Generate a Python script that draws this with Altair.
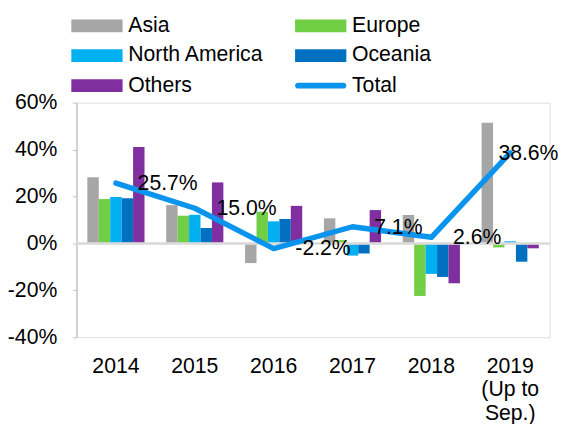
import altair as alt
import pandas as pd

years = ["2014", "2015", "2016", "2017", "2018", "2019|(Up to|Sep.)"]
series = ["Asia", "Europe", "North America", "Oceania", "Others"]
asia = [28.2, 16.3, -8.4, 10.7, 12.1, 51.4]
europe = [18.9, 11.8, 13.5, 1.4, -22.4, -1.7]
north_america = [19.8, 12.2, 9.4, -5.2, -13.0, 0.9]
oceania = [19.2, 6.6, 10.4, -4.3, -14.3, -7.8]
others = [41.1, 26.0, 16.0, 14.2, -17.0, -2.1]
total = [25.7, 15.0, -2.2, 7.1, 2.6, 38.6]
y_ticks = [-40, -20, 0, 20, 40, 60]

# legend order (two columns, filled column by column)
legend_names = ["Asia", "North America", "Others", "Europe", "Oceania", "Total"]
colors = ["#A6A6A6", "#00B0F0", "#7F2FA0", "#70CF45", "#0070C0", "#0A94EE"]
total_color = "#0A94EE"

values_by_series = [asia, europe, north_america, oceania, others]
rows = []
for s, vals in zip(series, values_by_series):
    for y, v in zip(years, vals):
        rows.append({"year": y, "series": s, "value": v})
bars_df = pd.DataFrame(rows)
total_df = pd.DataFrame({"year": years, "total": total})

FONT = "Liberation Sans"
FS = 21.5
RECT = "M-4,-1H4V1H-4Z"
PILL = "M-3.55,-0.45H3.55A0.45,0.45 0 0 1 3.55,0.45H-3.55A0.45,0.45 0 0 1 -3.55,-0.45Z"

x_enc = alt.X(
    "year:N",
    sort=years,
    scale=alt.Scale(paddingInner=0.275, paddingOuter=0.1375),
    axis=alt.Axis(
        title=None, domain=False, ticks=False, labelAngle=0,
        labelExpr="split(datum.label, '|')", labelFontSize=FS,
        labelPadding=19, labelLineHeight=23.5, labelColor="#000000",
        labelFont=FONT,
    ),
)
y_scale = alt.Scale(domain=[-40, 60], nice=False)

bars = alt.Chart(bars_df).mark_bar().encode(
    x=x_enc,
    xOffset=alt.XOffset("series:N", sort=series),
    y=alt.Y(
        "value:Q",
        scale=y_scale,
        axis=alt.Axis(
            title=None, values=y_ticks, labelExpr="datum.value + '%'",
            grid=False, domainColor="#BFBFBF", tickColor="#BFBFBF",
            tickSize=4, labelPadding=16, labelFontSize=FS,
            labelColor="#000000", labelFont=FONT, domainWidth=1.2,
        ),
    ),
    color=alt.Color(
        "series:N",
        scale=alt.Scale(domain=legend_names, range=colors),
        legend=alt.Legend(
            title=None, orient="none", legendX=10, legendY=-89,
            columns=2,
            symbolType={"expr": f"datum.value === 'Total' ? '{PILL}' : '{RECT}'"},
            symbolSize=169,
            symbolStrokeWidth=0, labelOffset=21, labelFontSize=FS,
            labelFont=FONT, labelColor="#000000", rowPadding=7.5,
            columnPadding=31, padding=0, labelLimit=300,
        ),
    ),
)

zero = alt.Chart(total_df).mark_rule(color="#D9D9D9", strokeWidth=1.5).encode(
    y=alt.datum(0)
)

line = alt.Chart(total_df).mark_line(
    color=total_color, strokeWidth=5.5, strokeJoin="round", strokeCap="round"
).encode(
    x=alt.X("year:N", sort=years),
    y=alt.Y("total:Q", scale=y_scale),
)

label_base = alt.Chart(total_df).transform_calculate(
    label="replace(format(datum.total, '.1f'), '\u2212', '-') + '%'"
)
labels_main = label_base.transform_filter(
    alt.datum.year != years[-1]
).mark_text(
    align="left", baseline="middle", dx=22, dy=1, fontSize=FS, font=FONT,
    color="#000000",
).encode(
    x=alt.X("year:N", sort=years),
    y=alt.Y("total:Q", scale=y_scale),
    text="label:N",
)
labels_last = label_base.transform_filter(
    alt.datum.year == years[-1]
).mark_text(
    align="left", baseline="middle", dx=-12, dy=1, fontSize=FS, font=FONT,
    color="#000000",
).encode(
    x=alt.X("year:N", sort=years),
    y=alt.Y("total:Q", scale=y_scale),
    text="label:N",
)

chart = alt.layer(bars, zero, line, labels_main, labels_last).properties(
    width=480,
    height=238,
    autosize=alt.AutoSizeParams(type="none"),
    padding={"left": 69.5, "top": 93, "right": 9.5, "bottom": 85},
).configure_view(stroke=None).configure(font=FONT)

chart.save("out.html", embed_options={"renderer": "svg", "actions": False})
